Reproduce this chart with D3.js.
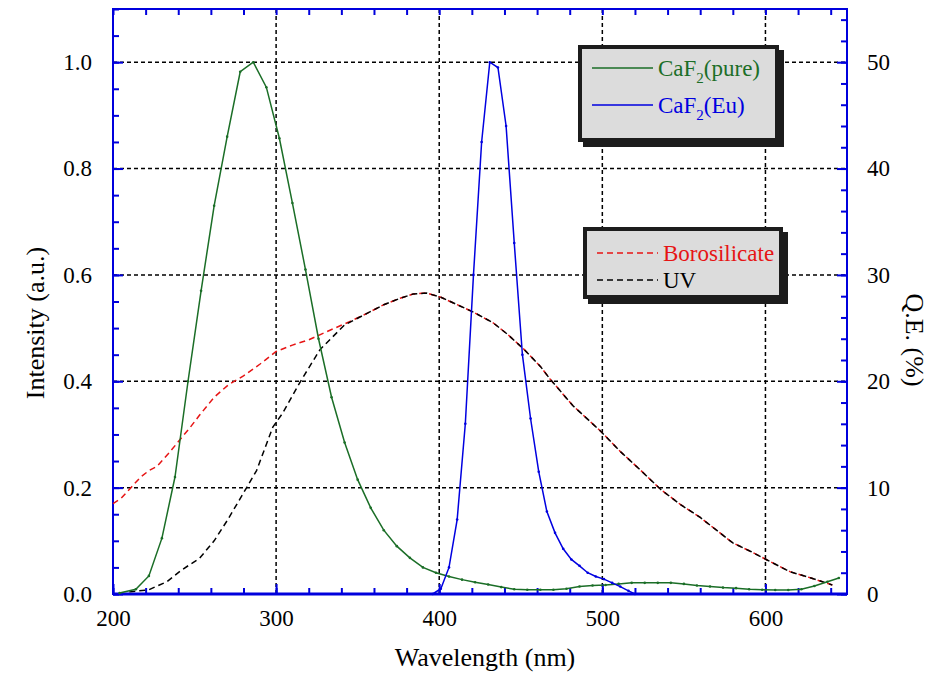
<!DOCTYPE html>
<html>
<head>
<meta charset="utf-8">
<script src="https://cdn.jsdelivr.net/npm/d3@7"></script>
<style>
  body { margin: 0; background: #fff; }
  svg, svg text { font-family: "Liberation Serif", "Times New Roman", "DejaVu Serif", serif; }
</style>
</head>
<body>
<svg id="chart" width="939" height="674"></svg>
<script>
// CaF2 (pure) emission, normalised
const pureWl = [204, 214, 222, 230, 238, 246, 254, 262, 270, 278, 286, 294, 302, 310, 318, 326, 334, 342,
  350, 358, 366, 374, 382, 390, 398, 406, 414, 422, 430, 438, 446, 454, 462, 470, 478, 486, 494, 502, 510,
  518, 526, 534, 542, 550, 558, 566, 574, 582, 590, 598, 606, 614, 622, 630, 638, 645];
const pureI = [0.002, 0.009, 0.034, 0.105, 0.22, 0.40, 0.57, 0.73, 0.86, 0.982, 1.0, 0.953, 0.857, 0.735, 0.61,
  0.48, 0.37, 0.285, 0.215, 0.162, 0.12, 0.09, 0.068, 0.05, 0.04, 0.033, 0.027, 0.022, 0.018, 0.013, 0.009,
  0.008, 0.008, 0.008, 0.01, 0.014, 0.016, 0.017, 0.019, 0.021, 0.021, 0.021, 0.021, 0.019, 0.016, 0.014,
  0.012, 0.011, 0.009, 0.008, 0.0075, 0.0075, 0.009, 0.015, 0.023, 0.03];

// CaF2 (Eu) emission, normalised
const euWl = [396, 401, 406, 411, 416, 421, 426, 431, 436, 441, 446, 451, 456, 461, 466, 471, 476, 481,
  486, 491, 496, 501, 506, 511, 516, 520];
const euI = [0, 0.01, 0.05, 0.14, 0.32, 0.6, 0.85, 1.0, 0.99, 0.88, 0.66, 0.45, 0.33, 0.23, 0.155, 0.115,
  0.085, 0.065, 0.053, 0.04, 0.033, 0.028, 0.021, 0.014, 0.006, 0];

// Q.E. (%) of borosilicate window PMT
const boroWl = [200, 205, 211, 217, 222, 227, 234, 241, 247, 253, 262, 271, 280, 290, 300, 310, 320, 333,
  345, 356, 366, 376, 384, 392, 401, 411, 421, 433, 442, 452, 462, 468, 482, 499, 511, 523, 536, 548, 560,
  570, 580, 591, 601, 615, 628, 641];
const boroQE = [8.5, 9.0, 10.0, 11.0, 11.6, 12.0, 13.2, 14.5, 15.6, 16.8, 18.5, 19.7, 20.5, 21.6, 22.8, 23.4,
  23.9, 24.8, 25.6, 26.4, 27.2, 27.8, 28.2, 28.3, 27.9, 27.2, 26.5, 25.5, 24.4, 23.0, 21.4, 20.2, 17.7, 15.3,
  13.4, 11.7, 9.8, 8.4, 7.2, 6.0, 4.8, 4.0, 3.2, 2.1, 1.5, 0.85];

// Q.E. (%) of UV window PMT
const uvWl = [210, 222, 233, 242, 253, 262, 270, 280, 288, 298, 304, 315, 327, 342, 356, 366, 376, 384,
  392, 401, 411, 421, 433, 442, 452, 462, 468, 482, 499, 511, 523, 536, 548, 560, 570, 580, 591, 601, 615,
  628, 641];
const uvQE = [0.2, 0.4, 1.15, 2.25, 3.35, 5.0, 6.9, 9.5, 11.6, 15.7, 17.0, 20.0, 23.0, 25.3, 26.4, 27.2, 27.8,
  28.2, 28.3, 27.9, 27.2, 26.5, 25.5, 24.4, 23.0, 21.4, 20.2, 17.7, 15.3, 13.4, 11.7, 9.8, 8.4, 7.2, 6.0, 4.8,
  4.0, 3.2, 2.1, 1.5, 0.85];

const xMajor = [200, 300, 400, 500, 600];
const yMajor = [0, 0.2, 0.4, 0.6, 0.8, 1.0];
const qeMajor = [0, 10, 20, 30, 40, 50];

const FONT = '"Liberation Serif", "Times New Roman", serif';
const svg = d3.select('#chart').attr('font-family', FONT);
const pL = 113, pR = 847, pT = 9, pB = 594;

const x = d3.scaleLinear([200, 650], [pL, pR]);
const y = d3.scaleLinear([0, 1.1], [pB, pT]);
const yq = d3.scaleLinear([0, 55], [pB, pT]);

const axisBlue = '#0000dd';
const green = '#1b6e27';
const blue = '#0000e0';
const red = '#e61414';

// grid
const grid = svg.append('g')
  .attr('stroke', '#000')
  .attr('stroke-width', 1.5)
  .attr('stroke-dasharray', '4,3');
grid.selectAll('line.v')
  .data(xMajor.slice(1))
  .join('line')
  .attr('class', 'v')
  .attr('x1', (d) => x(d)).attr('x2', (d) => x(d))
  .attr('y1', pT).attr('y2', pB);
grid.selectAll('line.h')
  .data(yMajor.slice(1))
  .join('line')
  .attr('class', 'h')
  .attr('x1', pL).attr('x2', pR)
  .attr('y1', (d) => y(d)).attr('y2', (d) => y(d));

// axes (ticks pointing inward)
function styleAxis(g) {
  g.attr('font-family', FONT).attr('font-size', 23);
  g.select('.domain').remove();
  g.selectAll('.tick line').attr('stroke', axisBlue).attr('stroke-width', 2);
  g.selectAll('.tick text').attr('fill', '#000');
}
const range = (a, b, s) => d3.range(a, b + s / 2, s);

svg.append('g').attr('transform', `translate(0,${pB})`)
  .call(d3.axisBottom(x).tickValues(range(200, 640, 20)).tickSize(-6).tickFormat(''))
  .call(styleAxis);
svg.append('g').attr('transform', `translate(0,${pB})`)
  .call(d3.axisBottom(x).tickValues(xMajor).tickSize(-10).tickPadding(16).tickFormat(d3.format('d')))
  .call(styleAxis);
svg.append('g').attr('transform', `translate(0,${pT})`)
  .call(d3.axisTop(x).tickValues(range(200, 640, 20)).tickSize(-6).tickFormat(''))
  .call(styleAxis);

svg.append('g').attr('transform', `translate(${pL},0)`)
  .call(d3.axisLeft(y).tickValues(range(0, 1.1, 0.05)).tickSize(-6).tickFormat(''))
  .call(styleAxis);
svg.append('g').attr('transform', `translate(${pL},0)`)
  .call(d3.axisLeft(y).tickValues(yMajor).tickSize(-10).tickPadding(21).tickFormat(d3.format('.1f')))
  .call(styleAxis);

svg.append('g').attr('transform', `translate(${pR},0)`)
  .call(d3.axisRight(yq).tickValues(range(0, 54, 2)).tickSize(-6).tickFormat(''))
  .call(styleAxis);
svg.append('g').attr('transform', `translate(${pR},0)`)
  .call(d3.axisRight(yq).tickValues(qeMajor).tickSize(-10).tickPadding(20).tickFormat(d3.format('d')))
  .call(styleAxis);

// frame
svg.append('rect')
  .attr('x', pL).attr('y', pT)
  .attr('width', pR - pL).attr('height', pB - pT)
  .attr('fill', 'none')
  .attr('stroke', axisBlue)
  .attr('stroke-width', 2);
svg.append('line')
  .attr('x1', pL).attr('x2', pR)
  .attr('y1', pB).attr('y2', pB)
  .attr('stroke', axisBlue).attr('stroke-width', 3);

// series
const plot = svg.append('g');
function drawLine(wl, vals, scale, color, dash) {
  const pts = wl.map((w, i) => [x(w), scale(vals[i])]);
  plot.append('path')
    .datum(pts)
    .attr('d', d3.line())
    .attr('fill', 'none')
    .attr('stroke', color)
    .attr('stroke-width', 1.5)
    .attr('stroke-dasharray', dash || null);
  return pts;
}
function drawMarks(pts, color) {
  plot.append('g').selectAll('circle')
    .data(pts)
    .join('circle')
    .attr('cx', (d) => d[0]).attr('cy', (d) => d[1])
    .attr('r', 1.3)
    .attr('fill', color);
}
drawLine(boroWl, boroQE, yq, red, '6,4');
drawLine(uvWl, uvQE, yq, '#000', '6,4');
drawMarks(drawLine(pureWl, pureI, y, green), green);
drawMarks(drawLine(euWl, euI, y, blue), blue);

// axis titles
svg.append('text')
  .attr('x', 485).attr('y', 666)
  .attr('text-anchor', 'middle')
  .attr('font-size', 26)
  .text('Wavelength (nm)');
svg.append('text')
  .attr('transform', 'translate(44,323) rotate(-90)')
  .attr('text-anchor', 'middle')
  .attr('font-size', 26)
  .text('Intensity (a.u.)');
svg.append('text')
  .attr('transform', 'translate(906,340) rotate(90)')
  .attr('text-anchor', 'middle')
  .attr('font-size', 26)
  .text('Q.E. (%)');

// legends
function legendBox(bx, by, w, h, items) {
  const g = svg.append('g');
  g.append('rect')
    .attr('x', bx + 5).attr('y', by + 5)
    .attr('width', w).attr('height', h)
    .attr('fill', '#1c1c1c');
  g.append('rect')
    .attr('x', bx + 2).attr('y', by + 2)
    .attr('width', w - 4).attr('height', h - 4)
    .attr('fill', '#dcdcdc')
    .attr('stroke', '#1c1c1c')
    .attr('stroke-width', 4);
  items.forEach((it) => {
    const ly = by + it.dy;
    g.append('line')
      .attr('x1', bx + 14).attr('x2', bx + 75)
      .attr('y1', ly).attr('y2', ly)
      .attr('stroke', it.color)
      .attr('stroke-width', 1.5)
      .attr('stroke-dasharray', it.dash || null);
    const t = g.append('text')
      .attr('x', bx + 80).attr('y', ly + 8)
      .attr('fill', it.color)
      .attr('font-size', 23);
    it.parts.forEach((p) => {
      const s = t.append('tspan').text(p.t);
      if (p.sub) s.attr('dy', 7).attr('font-size', 15);
      if (p.after) s.attr('dy', -7);
    });
  });
}
legendBox(578, 45, 201, 97, [
  { color: green, dy: 23, parts: [{ t: 'CaF' }, { t: '2', sub: true }, { t: '(pure)', after: true }] },
  { color: blue, dy: 60, parts: [{ t: 'CaF' }, { t: '2', sub: true }, { t: '(Eu)', after: true }] },
]);
legendBox(583, 227, 200, 72, [
  { color: red, dy: 26, dash: '6,4', parts: [{ t: 'Borosilicate' }] },
  { color: '#000', dy: 53, dash: '6,4', parts: [{ t: 'UV' }] },
]);
</script>
</body>
</html>
